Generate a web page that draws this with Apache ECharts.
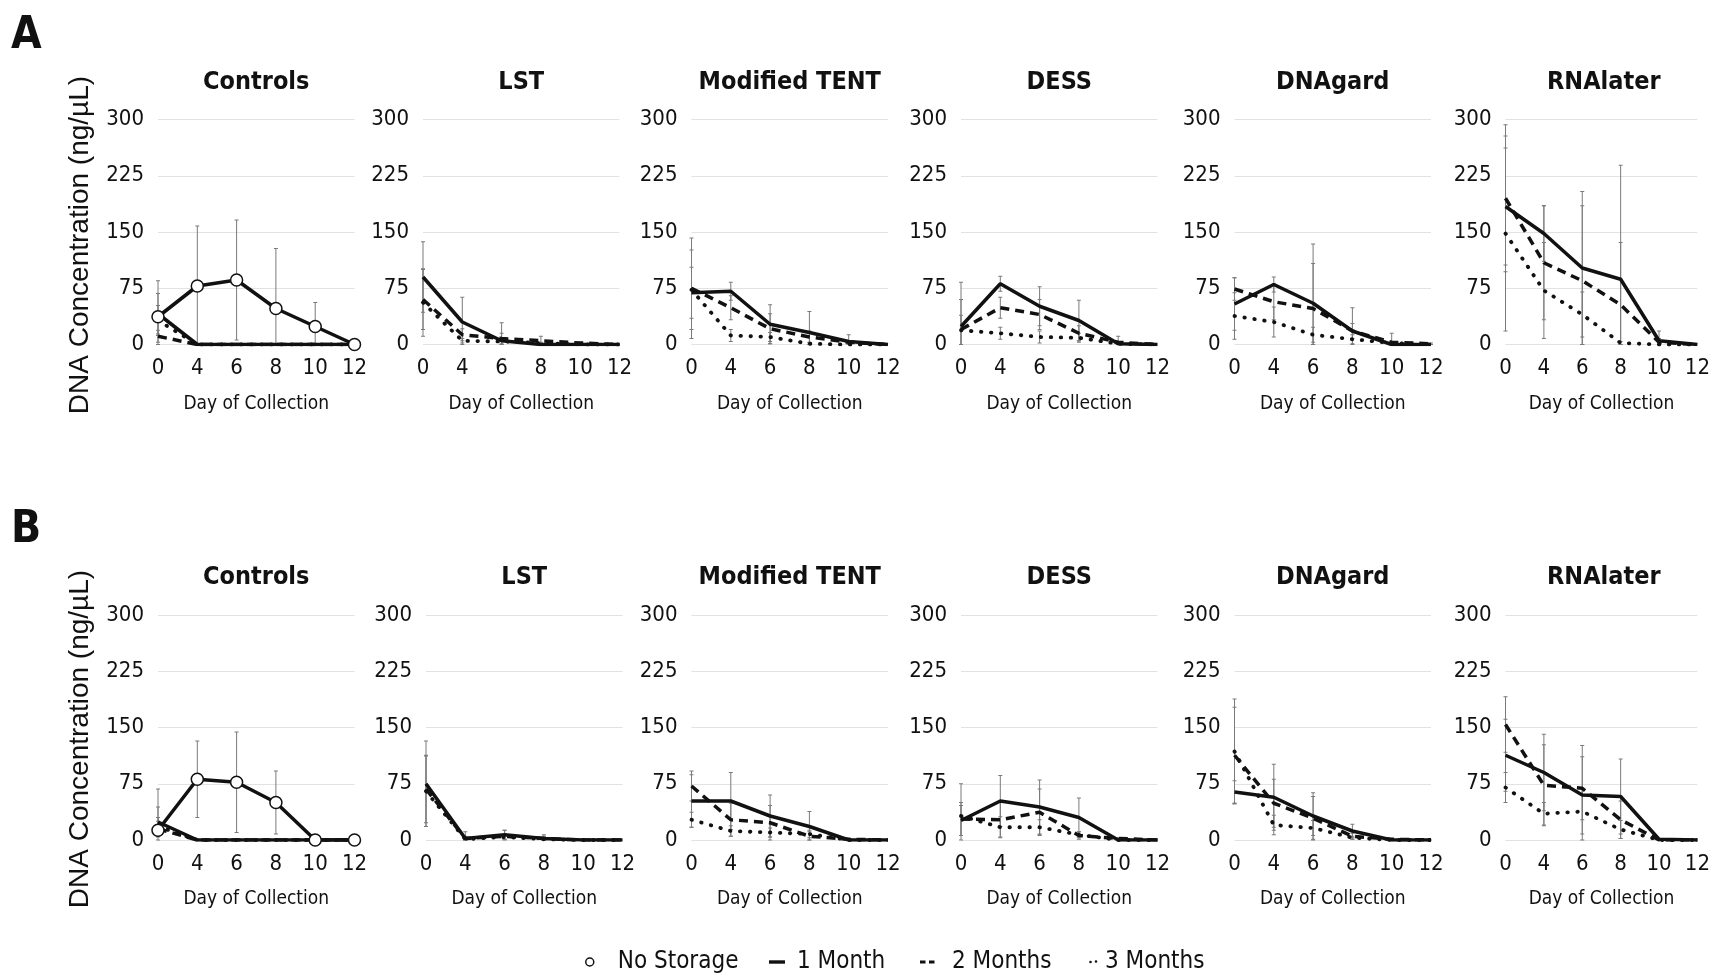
<!DOCTYPE html>
<html>
<head>
<meta charset="utf-8">
<title>DNA Concentration</title>
<script src="https://cdn.jsdelivr.net/npm/echarts@6/dist/echarts.min.js"></script>
<style>
html, body { margin: 0; padding: 0; background: #fff; }
#charts { width: 1713px; height: 974px; }
</style>
</head>
<body>
<div id="charts"></div>
<script>
var days = ['0', '4', '6', '8', '10', '12'];
var panels = ['Controls', 'LST', 'Modified TENT', 'DESS', 'DNAgard', 'RNAlater'];
var yMin = 0, yMax = 300, yStep = 75;

// A: one row per panel, one value per day
var noStorageA = [37, 78, 86, 48, 24, 0];
var noStorageSdA = [48, 80, 80, 80, 32, 0];
var oneMonthA = [
    [41, 0, 0, 0, 0, 0],
    [90, 30, 5, 0, 0, 0],
    [69, 71, 27, 16, 4, 0],
    [24, 81, 51, 32, 1, 0],
    [54, 80, 55, 18, 0, 0],
    [184, 148, 102, 87, 5, 0]
];
var twoMonthsA = [
    [11, 0, 0, 0, 0, 0],
    [60, 13, 8, 5, 2, 0],
    [75, 49, 21, 10, 3, 0],
    [20, 49, 40, 15, 3, 0],
    [74, 57, 48, 18, 3, 1],
    [195, 109, 85, 53, 3, 0]
];
var threeMonthsA = [
    [32, 0, 0, 0, 0, 0],
    [56, 5, 4, 2, 0, 0],
    [73, 12, 10, 1, 0, 0],
    [19, 15, 10, 9, 1, 0],
    [38, 30, 13, 7, 2, 0],
    [148, 72, 40, 2, 0, 0]
];
var oneMonthSdA = [
    [27, 0, 0, 0, 0, 0],
    [47, 33, 10, 0, 0, 0],
    [34, 12, 26, 28, 9, 0],
    [36, 10, 26, 27, 2, 0],
    [35, 10, 79, 31, 0, 0],
    [78, 37, 102, 152, 13, 0]
];
var twoMonthsSdA = [
    [8, 0, 0, 0, 0, 0],
    [40, 8, 21, 6, 1, 0],
    [67, 16, 20, 8, 2, 0],
    [63, 14, 20, 10, 8, 0],
    [15, 24, 60, 10, 12, 1],
    [98, 76, 100, 83, 5, 0]
];
var threeMonthsSdA = [
    [20, 0, 0, 0, 0, 0],
    [45, 3, 3, 1, 0, 0],
    [53, 8, 6, 2, 1, 0],
    [20, 8, 8, 6, 2, 0],
    [31, 20, 10, 6, 2, 0],
    [130, 64, 30, 2, 0, 0]
];

// B
var noStorageB = [13, 81, 77, 50, 0, 0];
var noStorageSdB = [55, 51, 67, 42, 0, 0];
var oneMonthB = [
    [24, 0, 0, 0, 0, 0],
    [75, 2, 7, 2, 0, 0],
    [52, 52, 32, 18, 0, 0],
    [26, 52, 44, 30, 0, 0],
    [64, 57, 32, 12, 0, 0],
    [113, 90, 60, 58, 1, 0]
];
var twoMonthsB = [
    [15, 0, 0, 0, 0, 0],
    [68, 2, 5, 2, 0, 0],
    [72, 27, 23, 5, 1, 0],
    [28, 27, 37, 6, 2, 0],
    [113, 49, 29, 5, 1, 0],
    [154, 73, 69, 27, 0, 0]
];
var threeMonthsB = [
    [18, 0, 0, 0, 0, 0],
    [65, 1, 4, 1, 0, 0],
    [27, 12, 10, 8, 0, 0],
    [32, 17, 17, 7, 0, 0],
    [118, 20, 16, 3, 0, 0],
    [70, 35, 38, 14, 0, 0]
];
var oneMonthSdB = [
    [20, 0, 0, 0, 0, 0],
    [57, 9, 6, 5, 0, 0],
    [35, 38, 28, 20, 0, 0],
    [20, 34, 36, 26, 0, 0],
    [15, 44, 31, 9, 0, 0],
    [48, 51, 66, 50, 1, 0]
];
var twoMonthsSdB = [
    [10, 0, 0, 0, 0, 0],
    [45, 3, 8, 3, 0, 0],
    [20, 22, 23, 6, 1, 0],
    [22, 23, 31, 5, 1, 0],
    [64, 32, 29, 4, 1, 0],
    [37, 54, 42, 25, 0, 0]
];
var threeMonthsSdB = [
    [12, 0, 0, 0, 0, 0],
    [47, 2, 3, 2, 0, 0],
    [10, 7, 6, 5, 0, 0],
    [43, 14, 10, 4, 0, 0],
    [70, 13, 10, 2, 0, 0],
    [20, 15, 30, 12, 0, 0]
];

var narrow = "'Liberation Sans Narrow', 'DejaVu Sans Condensed', sans-serif";
var ink = '#111';

var rows = [
    {label: 'A', top: 119.5, titleTop: 65, nameY: 245, lefts: [158, 423, 691.5, 961, 1234.5, 1505.5],
     none: noStorageA, noneSd: noStorageSdA,
     m1: oneMonthA, m2: twoMonthsA, m3: threeMonthsA,
     m1Sd: oneMonthSdA, m2Sd: twoMonthsSdA, m3Sd: threeMonthsSdA},
    {label: 'B', top: 615, titleTop: 560, nameY: 739, lefts: [158, 426, 691.5, 961, 1234.5, 1505.5],
     none: noStorageB, noneSd: noStorageSdB,
     m1: oneMonthB, m2: twoMonthsB, m3: threeMonthsB,
     m1Sd: oneMonthSdB, m2Sd: twoMonthsSdB, m3Sd: threeMonthsSdB}
];
var panelW = 196.5, panelH = 225;

function renderErr(params, api) {
    var lo = api.coord([api.value(0), api.value(1)]);
    var hi = api.coord([api.value(0), api.value(2)]);
    var st = {stroke: '#7a7a7a', lineWidth: 1};
    return {type: 'group', children: [
        {type: 'line', shape: {x1: lo[0], y1: lo[1], x2: hi[0], y2: hi[1]}, style: st},
        {type: 'line', shape: {x1: hi[0] - 2, y1: hi[1], x2: hi[0] + 2, y2: hi[1]}, style: st},
        {type: 'line', shape: {x1: lo[0] - 2, y1: lo[1], x2: lo[0] + 2, y2: lo[1]}, style: st}
    ]};
}

function errData(means, sds, out) {
    for (var i = 0; i < means.length; i++) {
        if (sds[i] > 0) {
            out.push([i, Math.max(0, means[i] - sds[i]), means[i] + sds[i]]);
        }
    }
}

var grids = [], xAxes = [], yAxes = [], titles = [], series = [];

for (var r = 0; r < rows.length; r++) {
    var row = rows[r];
    for (var p = 0; p < panels.length; p++) {
        var g = r * panels.length + p;
        grids.push({left: row.lefts[p], top: row.top, width: panelW, height: panelH});
        // title box has 5px padding, so pull it back to centre on the plot
        titles.push({
            text: panels[p], left: row.lefts[p] + panelW / 2 - 5, top: row.titleTop, textAlign: 'center',
            textStyle: {fontFamily: narrow, fontWeight: 'bold', fontSize: 25, color: ink}
        });
        xAxes.push({
            gridIndex: g, type: 'category', data: days, boundaryGap: false,
            axisLine: {show: false}, axisTick: {show: false},
            axisLabel: {fontFamily: narrow, fontSize: 22, color: ink, margin: 13},
            name: 'Day of Collection', nameLocation: 'middle', nameGap: 50,
            nameTextStyle: {fontFamily: narrow, fontSize: 19, color: ink}
        });
        yAxes.push({
            gridIndex: g, type: 'value', min: yMin, max: yMax, interval: yStep,
            axisLine: {show: false}, axisTick: {show: false},
            axisLabel: {fontFamily: narrow, fontSize: 22, color: ink, margin: 14},
            splitLine: {lineStyle: {color: '#e2e2e2', width: 1}}
        });

        var errs = [];
        errData(row.m1[p], row.m1Sd[p], errs);
        errData(row.m2[p], row.m2Sd[p], errs);
        errData(row.m3[p], row.m3Sd[p], errs);
        if (p === 0) errData(row.none, row.noneSd, errs);

        series.push({
            type: 'custom', name: 'sd', xAxisIndex: g, yAxisIndex: g, z: 1,
            renderItem: renderErr, encode: {x: 0, y: [1, 2]}, data: errs, silent: true
        });
        series.push({
            type: 'line', name: '1 Month', xAxisIndex: g, yAxisIndex: g, z: 3,
            data: row.m1[p], symbol: 'none', color: ink,
            lineStyle: {color: ink, width: 3.5}
        });
        series.push({
            type: 'line', name: '2 Months', xAxisIndex: g, yAxisIndex: g, z: 3,
            data: row.m2[p], symbol: 'none', color: ink,
            lineStyle: {color: ink, width: 3.5, type: [9, 6]}
        });
        series.push({
            type: 'line', name: '3 Months', xAxisIndex: g, yAxisIndex: g, z: 3,
            data: row.m3[p], symbol: 'none', color: ink,
            lineStyle: {color: ink, width: 3.8, type: [0.5, 9.5], cap: 'round'}
        });
        if (p === 0) {
            series.push({
                type: 'line', name: 'No Storage', xAxisIndex: g, yAxisIndex: g, z: 4,
                data: row.none, symbol: 'circle', symbolSize: 12, showAllSymbol: true, color: ink,
                itemStyle: {color: '#fff', borderColor: ink, borderWidth: 1.5},
                lineStyle: {color: ink, width: 3.5}
            });
        }
    }
}

// one legend per entry so each key sits where the original puts it
var keys = [
    {name: 'No Storage', left: 583, w: 29, fill: '#fff', border: 1.5,
     icon: 'path://M0,0L0,0M10,7A4,4 0 1 1 2,7A4,4 0 1 1 10,7ZM29,14L29,14'},
    {name: '1 Month', left: 769, w: 23, fill: ink, border: 0,
     icon: 'path://M0,0L0,0M0,5.3h16v3.4h-16zM23,14L23,14'},
    {name: '2 Months', left: 920, w: 27, fill: ink, border: 0,
     icon: 'path://M0,0L0,0M0,5.5h5.5v3h-5.5zM9,5.5h5.5v3h-5.5zM27,14L27,14'},
    {name: '3 Months', left: 1089, w: 11, fill: ink, border: 0,
     icon: 'path://M0,0L0,0M2.8,7A1.3,1.3 0 1 1 0.2,7A1.3,1.3 0 1 1 2.8,7ZM8.3,6.5A1.3,1.3 0 1 1 5.7,6.5A1.3,1.3 0 1 1 8.3,6.5ZM11,14L11,14'}
];
var legends = keys.map(function(k) {
    return {
        data: [{name: k.name, icon: k.icon, itemStyle: {color: k.fill, borderColor: ink, borderWidth: k.border}}],
        left: k.left, top: 950, padding: 0, itemWidth: k.w, itemHeight: 14, selectedMode: false,
        textStyle: {fontFamily: narrow, fontSize: 24, color: ink}
    };
});

var labelFont = "bold 44px 'Liberation Sans Narrow', 'DejaVu Sans Condensed', sans-serif";
var nameFont = "28px 'Liberation Sans', sans-serif";

var graphics = [];
for (var k = 0; k < rows.length; k++) {
    graphics.push({type: 'text', left: 11, top: k === 0 ? 15 : 509,
        style: {text: rows[k].label, font: labelFont, fill: ink}});
    graphics.push({type: 'text', x: 80, y: rows[k].nameY, rotation: Math.PI / 2,
        style: {text: 'DNA Concentration (ng/µL)', font: nameFont, fill: ink, align: 'center', verticalAlign: 'middle'}});
}

var myChart = echarts.init(document.getElementById('charts'));
var option = {
    animation: false,
    backgroundColor: '#fff',
    title: titles,
    grid: grids,
    xAxis: xAxes,
    yAxis: yAxes,
    legend: legends,
    graphic: graphics,
    series: series
};
myChart.setOption(option);
</script>
</body>
</html>
